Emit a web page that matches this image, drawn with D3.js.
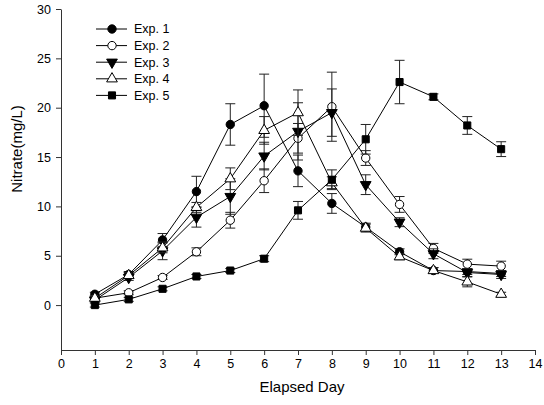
<!DOCTYPE html>
<html>
<head>
<meta charset="utf-8">
<script src="https://cdn.jsdelivr.net/npm/d3@7"></script>
<style>
  html, body { margin: 0; padding: 0; background: #fff; }
  svg { display: block; }
  text { font-family: "Liberation Sans", Arial, sans-serif; fill: #000; }
</style>
</head>
<body>
<div id="chart"></div>
<script>
// data
const days = [1, 2, 3, 4, 5, 6, 7, 8, 9, 10, 11, 12, 13];
const seriesNames = ["Exp. 1", "Exp. 2", "Exp. 3", "Exp. 4", "Exp. 5"];
const exp1 = [1.1, 3.1, 6.6, 11.5, 18.3, 20.2, 13.6, 10.3, 7.9, 5.4, 3.5, 3.4, 3.2];
const exp1Err = [0.2, 0.3, 0.65, 1.55, 2.1, 3.2, 1.6, 1.0, 0.4, 0.3, 0.3, 0.3, 0.3];
const exp2 = [0.7, 1.25, 2.8, 5.4, 8.6, 12.6, 16.9, 20.1, 14.9, 10.2, 5.75, 4.15, 3.95];
const exp2Err = [0.2, 0.2, 0.2, 0.4, 0.8, 1.2, 1.5, 3.5, 0.75, 0.8, 0.5, 0.5, 0.5];
const exp3 = [0.5, 2.8, 5.5, 8.9, 11.0, 15.1, 17.6, 19.5, 12.2, 8.4, 5.2, 3.3, 3.1];
const exp3Err = [0.2, 0.3, 0.9, 1.0, 1.8, 1.4, 2.9, 2.4, 1.0, 0.45, 0.5, 0.4, 0.4];
const exp4 = [0.7, 3.0, 5.8, 9.9, 12.8, 17.7, 19.5, 12.4, 7.8, 4.9, 3.5, 2.35, 1.1];
const exp4Err = [0.2, 0.3, 0.5, 0.5, 1.1, 1.4, 2.3, 0.6, 0.4, 0.3, 0.3, 0.5, 0.2];
const exp5 = [0.0, 0.58, 1.65, 2.9, 3.5, 4.7, 9.6, 12.7, 16.8, 22.6, 21.1, 18.2, 15.8];
const exp5Err = [0.2, 0.2, 0.2, 0.2, 0.2, 0.3, 0.9, 1.0, 1.5, 2.2, 0.3, 0.9, 0.75];
const xTicks = d3.range(0, 15, 1);
const yTicks = [0, 5, 10, 15, 20, 25, 30];

const values = [exp1, exp2, exp3, exp4, exp5];
const errors = [exp1Err, exp2Err, exp3Err, exp4Err, exp5Err];

// marker style per series
const markers = [
  { type: d3.symbolCircle, size: 55, fill: "#000", rot: 0 },
  { type: d3.symbolCircle, size: 55, fill: "#fff", rot: 0 },
  { type: d3.symbolTriangle, size: 50, fill: "#000", rot: 180 },
  { type: d3.symbolTriangle, size: 50, fill: "#fff", rot: 0 },
  { type: d3.symbolSquare, size: 50, fill: "#000", rot: 0 }
];

const width = 544, height = 405;
const marginLeft = 61, marginRight = 9, marginTop = 9, marginBottom = 55;

const x = d3.scaleLinear()
  .domain([0, 14])
  .range([marginLeft, width - marginRight]);

const y = d3.scaleLinear()
  .domain([-4.55, 30])
  .range([height - marginBottom, marginTop]);

const svg = d3.select("#chart")
  .append("svg")
  .attr("width", width)
  .attr("height", height)
  .attr("viewBox", [0, 0, width, height]);

// axes
svg.append("g")
  .attr("transform", `translate(0,${height - marginBottom})`)
  .call(d3.axisBottom(x).tickValues(xTicks).tickSize(5).tickSizeOuter(0).tickPadding(4))
  .call(g => g.selectAll("path, line").attr("stroke", "#333"))
  .call(g => g.selectAll("text").attr("font-size", 12.5).attr("font-family", null));

svg.append("g")
  .attr("transform", `translate(${marginLeft},0)`)
  .call(d3.axisLeft(y).tickValues(yTicks).tickSize(5).tickSizeOuter(0).tickPadding(5))
  .call(g => g.selectAll("path, line").attr("stroke", "#333"))
  .call(g => g.selectAll("text").attr("font-size", 12.5).attr("font-family", null));

// axis titles
svg.append("text")
  .attr("x", (x(0) + x(14)) / 2 + 4)
  .attr("y", 392)
  .attr("text-anchor", "middle")
  .attr("font-size", 15)
  .text("Elapsed Day");

svg.append("text")
  .attr("transform", `translate(22,149)rotate(-90)`)
  .attr("text-anchor", "middle")
  .attr("font-size", 15)
  .text("Nitrate(mg/L)");

const line = d3.line()
  .x((d, i) => x(days[i]))
  .y(d => y(d));

const capW = 5;

values.forEach((vals, s) => {
  const g = svg.append("g");
  const errs = errors[s];
  const m = markers[s];

  // error bars
  const eb = g.append("g")
    .attr("stroke", "#222")
    .attr("stroke-width", 1)
    .selectAll("g")
    .data(vals)
    .join("g");
  eb.append("line")
    .attr("x1", (d, i) => x(days[i])).attr("x2", (d, i) => x(days[i]))
    .attr("y1", (d, i) => y(d - errs[i])).attr("y2", (d, i) => y(d + errs[i]));
  eb.append("line")
    .attr("x1", (d, i) => x(days[i]) - capW).attr("x2", (d, i) => x(days[i]) + capW)
    .attr("y1", (d, i) => y(d + errs[i])).attr("y2", (d, i) => y(d + errs[i]));
  eb.append("line")
    .attr("x1", (d, i) => x(days[i]) - capW).attr("x2", (d, i) => x(days[i]) + capW)
    .attr("y1", (d, i) => y(d - errs[i])).attr("y2", (d, i) => y(d - errs[i]));

  // connecting line
  g.append("path")
    .datum(vals)
    .attr("fill", "none")
    .attr("stroke", "#000")
    .attr("stroke-width", 1)
    .attr("d", line);

  // markers
  g.append("g")
    .selectAll("path")
    .data(vals)
    .join("path")
    .attr("transform", (d, i) => `translate(${x(days[i])},${y(d)})rotate(${m.rot})`)
    .attr("d", d3.symbol(m.type, m.size))
    .attr("fill", m.fill)
    .attr("stroke", "#000")
    .attr("stroke-width", 1);
});

// legend
const legend = svg.append("g")
  .selectAll("g")
  .data(seriesNames)
  .join("g")
  .attr("transform", (d, i) => `translate(96,${29 + i * 16.6})`);

legend.append("line")
  .attr("x1", 0).attr("x2", 31)
  .attr("stroke", "#000");

legend.append("path")
  .attr("transform", (d, i) => `translate(16,0)rotate(${markers[i].rot})`)
  .attr("d", (d, i) => d3.symbol(markers[i].type, markers[i].size)())
  .attr("fill", (d, i) => markers[i].fill)
  .attr("stroke", "#000");

legend.append("text")
  .attr("x", 38)
  .attr("dy", "0.35em")
  .attr("font-size", 12.5)
  .text(d => d);
</script>
</body>
</html>
